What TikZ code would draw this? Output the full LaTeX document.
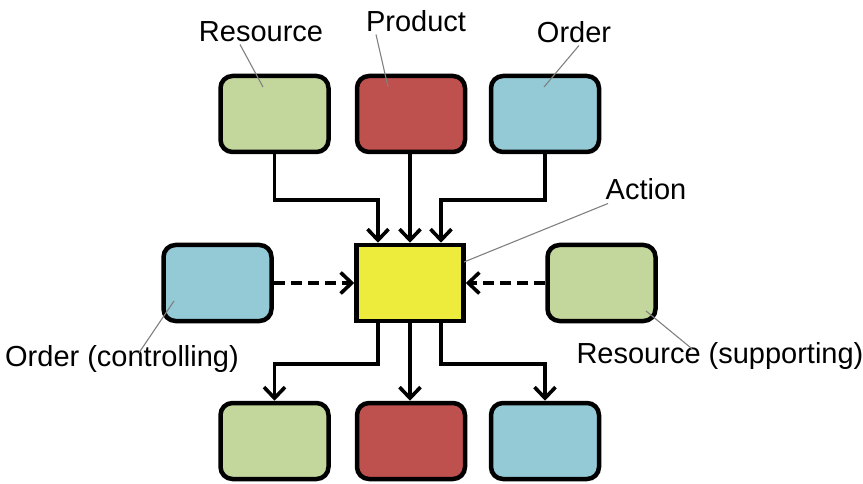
\documentclass[tikz,border=0pt]{standalone}
\usepackage{fontspec}
\setmainfont{Liberation Sans}
\usepackage{xcolor}
\usetikzlibrary{arrows.meta, positioning}

\definecolor{resgreen}{HTML}{C3D69B}
\definecolor{prodred}{HTML}{BE504D}
\definecolor{ordblue}{HTML}{93CAD6}
\definecolor{actyellow}{HTML}{EDEB3B}

\begin{document}
\begin{tikzpicture}[
        x=1pt, y=-1pt,
        objbox/.style={rectangle, rounded corners=12pt, draw=black, line width=4.5pt, minimum width=108pt, minimum height=76pt},
        actbox/.style={rectangle, draw=black, line width=4.5pt, minimum width=107pt, minimum height=76pt, fill=actyellow},
        lbl/.style={font=\fontsize{29}{32}\selectfont, inner sep=0pt, anchor=base},
        flow/.style={-{Straight Barb[length=11pt, width=21pt, line width=3.6pt]}, line width=3.6pt, color=black},
        dflow/.style={flow, dash pattern=on 11pt off 6pt},
        leader/.style={line width=1.1pt, color=gray}
    ]
        \useasboundingbox (0,0) rectangle (863,484);

        % Action in the middle
        \node[actbox] (act) at (410,283) {};

        % Top row
        \node[objbox, fill=resgreen] (restop) at (274.5,114) {};
        \node[objbox, fill=prodred] (prodtop) at (411,114) {};
        \node[objbox, fill=ordblue] (ordtop) at (545,114) {};

        % Side boxes
        \node[objbox, fill=ordblue] (ordside) at (217.5,283) {};
        \node[objbox, fill=resgreen] (resside) at (601.5,283) {};

        % Bottom row
        \node[objbox, fill=resgreen] (resbot) at (274.5,441) {};
        \node[objbox, fill=prodred] (prodbot) at (411,441) {};
        \node[objbox, fill=ordblue] (ordbot) at (545,441) {};

        % Inputs
        \draw[flow] (restop.south) -- ++(0,46) -| ([xshift=-32pt]act.north);
        \draw[flow] (prodtop.south -| act.north) -- (act.north);
        \draw[flow] (ordtop.south) -- ++(0,46) -| ([xshift=31pt]act.north);

        % Control and support
        \draw[dflow] (ordside.east) -- (act.west);
        \draw[dflow] (resside.west) -- (act.east);

        % Outputs
        \draw[flow] ([xshift=-32pt]act.south) -- ++(0,40.5) -| (resbot.north);
        \draw[flow] (act.south) -- (act.south |- prodbot.north);
        \draw[flow] ([xshift=31pt]act.south) -- ++(0,40.5) -| (ordbot.north);

        % Labels
        \node[lbl] (lres) at (261,42) {Resource};
        \node[lbl] (lprod) at (416,32) {Product};
        \node[lbl] (lord) at (574,43) {Order};
        \node[lbl] (lact) at (646,200) {Action};
        \node[lbl] (lctrl) at (122,366) {Order (controlling)};
        \node[lbl] (lsupp) at (720,363) {Resource (supporting)};

        % Leader ends
        \coordinate (pres) at (263,87);
        \coordinate (pprod) at (388,87);
        \coordinate (pord) at (544,87);
        \coordinate (pact) at (464,262);
        \coordinate (pctrl) at (174,301);
        \coordinate (psupp) at (646,311);

        \draw[leader] ([xshift=-21pt,yshift=-2pt]lres.south) -- (pres);
        \draw[leader] ([xshift=-40pt,yshift=-2pt]lprod.south) -- (pprod);
        \draw[leader] ([xshift=5pt,yshift=-2pt]lord.south) -- (pord);
        \draw[leader] ([xshift=-38pt,yshift=-3pt]lact.south) -- (pact);
        \draw[leader] ([xshift=17pt,yshift=-8pt]lctrl.north) -- (pctrl);
        \draw[leader] ([xshift=-28pt,yshift=-7pt]lsupp.north) -- (psupp);
\end{tikzpicture}
\end{document}
